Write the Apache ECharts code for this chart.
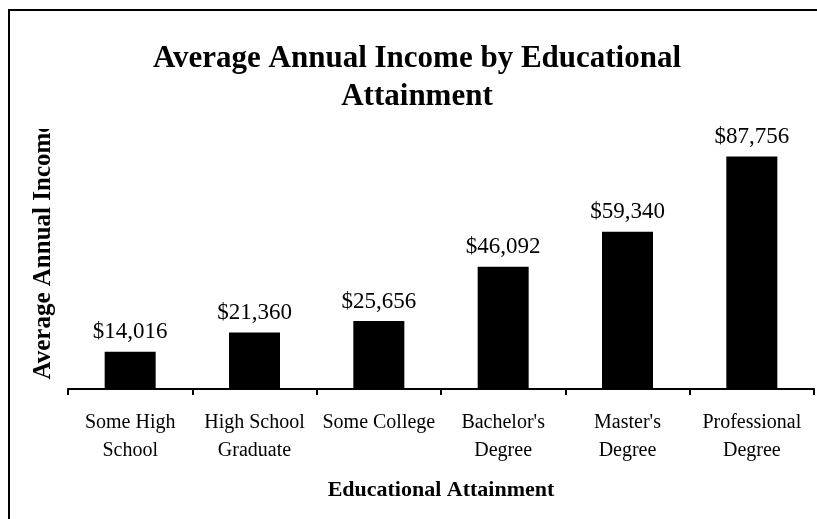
<!DOCTYPE html>
<html>
<head>
<meta charset="utf-8">
<script src="https://cdn.jsdelivr.net/npm/echarts@6/dist/echarts.min.js"></script>
<style>
  html, body { margin: 0; padding: 0; background: #fff; }
  #chart { width: 817px; height: 519px; }
</style>
</head>
<body>
<div id="chart"></div>
<script>
// Average annual income by highest level of education reached
var categories = [
  'Some High\nSchool',
  'High School\nGraduate',
  'Some College',
  "Bachelor's\nDegree",
  "Master's\nDegree",
  'Professional\nDegree'
];
var incomes = [14016, 21360, 25656, 46092, 59340, 87756];

var serif = '"Liberation Serif", "Times New Roman", Times, serif';

function dollars(v) {
  return '$' + v.toLocaleString('en-US');
}

var chart = echarts.init(document.getElementById('chart'), null, { renderer: 'canvas' });

chart.setOption({
  backgroundColor: '#ffffff',
  animation: false,
  title: {
    text: 'Average Annual Income by Educational\nAttainment',
    left: 412,
    top: 35,
    textAlign: 'center',
    textStyle: {
      fontFamily: serif,
      fontWeight: 'bold',
      fontSize: 31,
      lineHeight: 38,
      color: '#000'
    }
  },
  grid: { left: 68, right: 3, top: 124, bottom: 130 },
  xAxis: {
    type: 'category',
    data: categories,
    axisLine: { lineStyle: { color: '#000', width: 2 } },
    axisTick: { show: true, length: 6, lineStyle: { color: '#000', width: 2 } },
    axisLabel: {
      interval: 0,
      margin: 20,
      fontFamily: serif,
      fontSize: 20,
      lineHeight: 28,
      color: '#000'
    },
    name: 'Educational Attainment',
    nameLocation: 'middle',
    nameGap: 90,
    nameTextStyle: {
      fontFamily: serif,
      fontWeight: 'bold',
      fontSize: 22,
      color: '#000'
    }
  },
  yAxis: {
    type: 'value',
    min: 0,
    max: 100000,
    axisLine: { show: false },
    axisTick: { show: false },
    axisLabel: { show: false },
    splitLine: { show: false },
    name: 'Average Annual Income',
    nameLocation: 'middle',
    nameRotate: 90,
    nameGap: 12,
    nameTextStyle: {
      fontFamily: serif,
      fontWeight: 'bold',
      fontSize: 25,
      color: '#000',
      padding: [0, 0, 0, 12]
    }
  },
  series: [{
    type: 'bar',
    data: incomes,
    barWidth: 51,
    itemStyle: { color: '#000' },
    label: {
      show: true,
      position: 'top',
      distance: 8,
      formatter: function (p) { return dollars(p.value); },
      fontFamily: serif,
      fontSize: 23,
      color: '#000'
    }
  }],
  graphic: [
    {
      // the axis title box cuts off the tail of its text
      type: 'rect',
      shape: { x: 15, y: 90, width: 50, height: 39 },
      style: { fill: '#fff' },
      z: 100
    },
    {
      type: 'polyline',
      shape: { points: [[9, 519], [9, 10], [817, 10]] },
      style: { stroke: '#000', lineWidth: 2, fill: null },
      z: 101
    }
  ]
});
</script>
</body>
</html>
